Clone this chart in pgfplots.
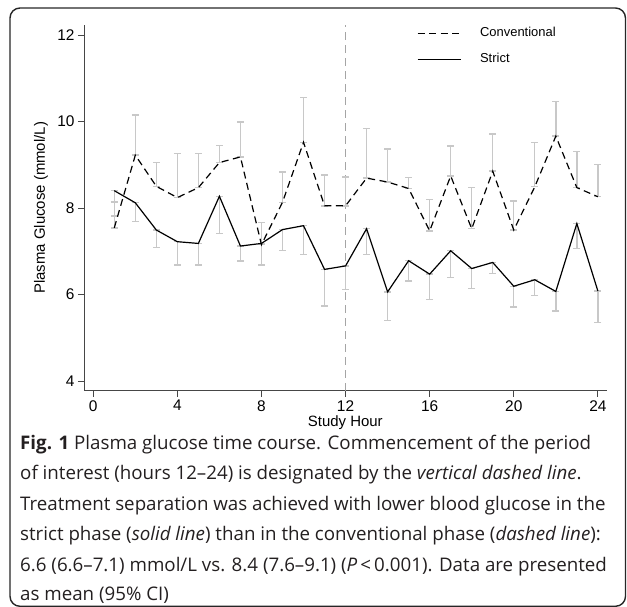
\documentclass[border=0pt]{standalone}
\usepackage{pgfplots}
\pgfplotsset{compat=1.18}
\usepackage{pgfplotstable}
\usepackage{fontspec}
\setmainfont{Liberation Sans}
\newfontfamily\capfont{Open Sans}
\definecolor{errgray}{RGB}{200,200,200}
\definecolor{refgray}{RGB}{165,165,165}
\definecolor{axgray}{RGB}{70,70,70}
\definecolor{captxt}{RGB}{35,31,32}

\pgfplotstableread{
x c cu s sl
1 7.54 8.14 8.40 7.81
2 9.22 10.15 8.12 7.69
3 8.50 9.05 7.49 7.08
4 8.24 9.26 7.22 6.68
5 8.47 9.26 7.18 6.68
6 9.05 9.45 8.27 7.41
7 9.18 9.99 7.12 6.77
8 7.15 7.66 7.18 6.68
9 8.13 8.83 7.50 7.02
10 9.52 10.55 7.59 6.93
11 8.05 8.76 6.58 5.73
12 8.05 8.72 6.66 6.12
13 8.69 9.84 7.52 6.93
14 8.60 9.36 6.06 5.40
15 8.45 8.70 6.78 6.31
16 7.47 8.20 6.47 5.89
17 8.74 9.43 7.01 6.39
18 7.52 8.47 6.60 6.14
19 8.85 9.71 6.74 6.48
20 7.49 8.16 6.19 5.71
21 8.49 9.51 6.34 5.97
22 9.66 10.46 6.07 5.62
23 8.47 9.30 7.64 7.06
24 8.26 9.01 6.08 5.35
}\gluc

\begin{document}
\begin{tikzpicture}
\useasboundingbox (0,0) rectangle (627bp,-607bp);
\draw[rounded corners=10bp, line width=1.4bp, black!85] (10bp,-8bp) rectangle (625.5bp,-606.3bp);
\begin{axis}[
  at={(84bp,-390.7bp)}, anchor=south west,
  scale only axis, width=522.7bp, height=365.7bp,
  xmin=-0.44, xmax=24.42, ymin=3.775, ymax=12.23,
  axis lines*=left,
  axis line style={axgray, line width=0.9bp},
  xtick={0,4,...,24}, ytick={4,6,8,10,12},
  tick align=outside, major tick length=6bp,
  tick style={axgray, line width=0.9bp},
  ticklabel style={font=\fontsize{15.5}{18}\selectfont, text=black},
  /pgf/number format/assume math mode=true,
  xlabel={Study Hour}, ylabel={Plasma Glucose (mmol/L)},
  label style={font=\fontsize{15}{18}\selectfont},
  x label style={at={(axis description cs:0.5,-0.0883)}, anchor=center},
  y label style={at={(axis description cs:-0.0823,0.5)}, anchor=center},
  legend style={draw=none, fill=none, inner sep=0pt, at={(0.6365,0.9945)}, anchor=north west,
    font=\fontsize{13}{15}\selectfont, row sep=14bp, column sep=19bp,
    nodes={inner sep=0pt, text height=9.5bp, text depth=2.5bp}},
  legend cell align=left,
  legend image code/.code={\draw[#1] (0bp,0bp) -- (43bp,0bp);},
]
\addplot[refgray, line width=1.1bp, dash pattern=on 8bp off 5bp, forget plot] coordinates {(12,3.775) (12,12.23)};
\addplot[draw=none, mark=none, forget plot, error bars/.cd, y dir=both, y explicit, error mark=-,
  error bar style={errgray, line width=1.4bp},
  error mark options={errgray, line width=1.4bp, mark size=3.4bp, rotate=90}]
  table[x=x, y=c, y error plus expr=\thisrow{cu}-\thisrow{c}, y error minus expr=0] {\gluc};
\addplot[draw=none, mark=none, forget plot, error bars/.cd, y dir=both, y explicit, error mark=-,
  error bar style={errgray, line width=1.4bp},
  error mark options={errgray, line width=1.4bp, mark size=3.4bp, rotate=90}]
  table[x=x, y=s, y error plus expr=0, y error minus expr=\thisrow{s}-\thisrow{sl}] {\gluc};
\addplot[black, line width=1.2bp, dash pattern=on 7bp off 4.5bp] table[x=x, y=c] {\gluc};
\addlegendentry{Conventional}
\addplot[black, line width=1.2bp] table[x=x, y=s] {\gluc};
\addlegendentry{Strict}
\end{axis}
\begin{scope}[every node/.style={anchor=base west, inner sep=0pt, text=captxt, font=\capfont\fontsize{18.8}{23}\selectfont}]
\node at (20bp,-449bp) {\textbf{Fig. 1} Plasma glucose time course. Commencement of the period};
\node at (20bp,-479.5bp) {of interest (hours 12–24) is designated by the \textit{vertical dashed line}.};
\node at (20bp,-510bp) {Treatment separation was achieved with lower blood glucose in the};
\node at (20bp,-540.5bp) {strict phase (\textit{solid line}) than in the conventional phase (\textit{dashed line}):};
\node at (20bp,-571bp) {6.6 (6.6–7.1) mmol/L vs. 8.4 (7.6–9.1) (\textit{P}\,<\,0.001). Data are presented};
\node at (20bp,-600bp) {as mean (95\% CI)};
\end{scope}
\end{tikzpicture}
\end{document}
